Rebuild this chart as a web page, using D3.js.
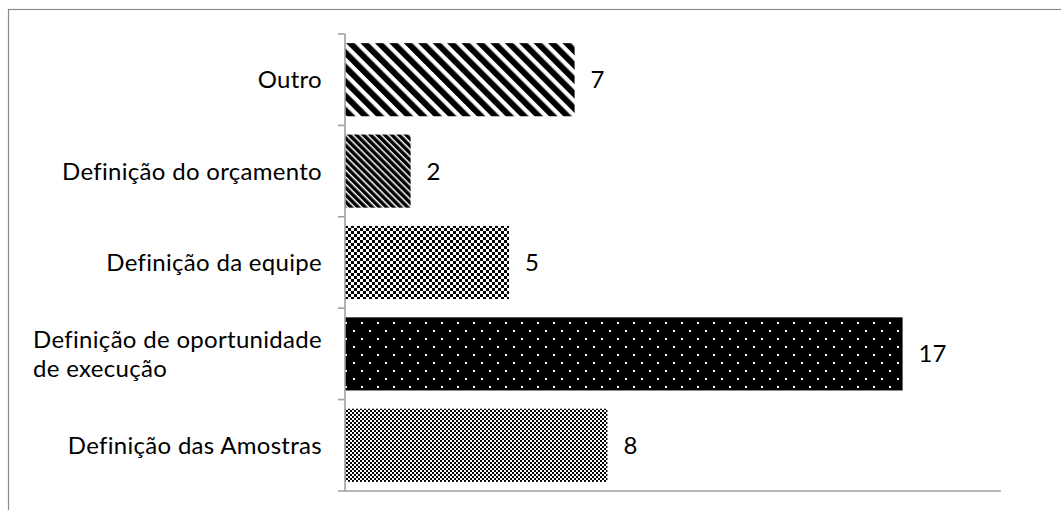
<!DOCTYPE html>
<html>
<head>
<meta charset="utf-8">
<script src="https://cdn.jsdelivr.net/npm/d3@7"></script>
<style>
  html, body { margin: 0; padding: 0; background: #fff; }
  svg { display: block; }
  text { font-family: "Lato", "Open Sans", sans-serif; fill: #000; }
</style>
</head>
<body>
<svg id="chart" width="1061" height="510"></svg>
<script>
// ---- data (top of chart to bottom) ----
const categories = ["Outro", "Definição do orçamento", "Definição da equipe", "Definição de oportunidade de execução", "Definição das Amostras"];
const categoryLines = [["Outro"], ["Definição do orçamento"], ["Definição da equipe"], ["Definição de oportunidade", "de execução"], ["Definição das Amostras"]];
const values = [7, 2, 5, 17, 8];
const patternIds = ["pWide", "pDark", "pCheckBig", "pDots", "pCheckSmall"];
const xDomain = [0, 20];

const W = 1061, H = 510;
const plot = { left: 345, right: 1001, top: 34, bottom: 491 };
const svg = d3.select("#chart");
const defs = svg.append("defs");

// wide downward diagonal
const p1 = defs.append("pattern").attr("id", "pWide").attr("patternUnits", "userSpaceOnUse")
  .attr("width", 10.2).attr("height", 10.2).attr("patternTransform", "rotate(-45)");
p1.append("rect").attr("width", 10.2).attr("height", 10.2).attr("fill", "#fff");
p1.append("rect").attr("width", 6.0).attr("height", 10.2).attr("fill", "#000");

// dark downward diagonal
const p2 = defs.append("pattern").attr("id", "pDark").attr("patternUnits", "userSpaceOnUse")
  .attr("width", 5).attr("height", 5).attr("patternTransform", "rotate(-45)");
p2.append("rect").attr("width", 5).attr("height", 5).attr("fill", "#fff");
p2.append("rect").attr("width", 3.5).attr("height", 5).attr("fill", "#000");

// large checker with crosses
const p3 = defs.append("pattern").attr("id", "pCheckBig").attr("patternUnits", "userSpaceOnUse")
  .attr("width", 12).attr("height", 12);
p3.append("rect").attr("width", 12).attr("height", 12).attr("fill", "#fff");
for (let i = 0; i < 4; i++) for (let j = 0; j < 4; j++) {
  if ((i + j) % 2 === 0) p3.append("rect").attr("x", i * 3).attr("y", j * 3).attr("width", 3).attr("height", 3).attr("fill", "#000");
}
p3.append("rect").attr("x", 3).attr("y", 4).attr("width", 3).attr("height", 1).attr("fill", "#000");
p3.append("rect").attr("x", 4).attr("y", 3).attr("width", 1).attr("height", 3).attr("fill", "#000");

// black with white dots
const p4 = defs.append("pattern").attr("id", "pDots").attr("patternUnits", "userSpaceOnUse")
  .attr("width", 16).attr("height", 16).attr("x", 345).attr("y", 0);
p4.append("rect").attr("width", 16).attr("height", 16).attr("fill", "#000");
p4.append("rect").attr("x", 0).attr("y", 2).attr("width", 2).attr("height", 2).attr("fill", "#fff");
p4.append("rect").attr("x", 8).attr("y", 10).attr("width", 2).attr("height", 2).attr("fill", "#fff");

// small checkerboard
const p5 = defs.append("pattern").attr("id", "pCheckSmall").attr("patternUnits", "userSpaceOnUse")
  .attr("width", 4).attr("height", 4);
p5.append("rect").attr("width", 4).attr("height", 4).attr("fill", "#fff");
p5.append("rect").attr("x", 0).attr("y", 0).attr("width", 2).attr("height", 2).attr("fill", "#000");
p5.append("rect").attr("x", 2).attr("y", 2).attr("width", 2).attr("height", 2).attr("fill", "#000");

// outer frame
svg.append("rect").attr("x", 8.5).attr("y", 9.5).attr("width", W + 10).attr("height", H + 10)
  .attr("fill", "none").attr("stroke", "#8c8c8c").attr("stroke-width", 1.2);

const x = d3.scaleLinear().domain(xDomain).range([plot.left, plot.right]);
const y = d3.scaleBand().domain(categories).range([plot.top, plot.bottom]).paddingInner(0.2).paddingOuter(0.1);

// bars
svg.append("g").selectAll("rect").data(categories).join("rect")
  .attr("x", x(0))
  .attr("y", d => y(d))
  .attr("width", (d, i) => x(values[i]) - x(0))
  .attr("height", y.bandwidth())
  .attr("fill", (d, i) => `url(#${patternIds[i]})`);

// axes
const axisColor = "#a0a0a0";
const bandStep = (plot.bottom - plot.top) / categories.length;
const g = svg.append("g");
g.append("line").attr("x1", plot.left).attr("x2", plot.left).attr("y1", plot.top).attr("y2", plot.bottom)
  .attr("stroke", axisColor).attr("stroke-width", 1.6);
g.append("line").attr("x1", plot.left - 7).attr("x2", plot.right).attr("y1", plot.bottom).attr("y2", plot.bottom)
  .attr("stroke", axisColor).attr("stroke-width", 1.6);
d3.range(categories.length).forEach(i => {
  const yy = plot.top + i * bandStep;
  g.append("line").attr("x1", plot.left - 7).attr("x2", plot.left).attr("y1", yy).attr("y2", yy)
    .attr("stroke", axisColor).attr("stroke-width", 1.6);
});

// category labels
const fontSize = 24;
const letterSp = 0.3;
const lineH = 29;
categories.forEach((c, i) => {
  const lines = categoryLines[i];
  const cy = y(c) + y.bandwidth() / 2;
  const t = svg.append("text").attr("font-size", fontSize).attr("letter-spacing", letterSp);
  lines.forEach((ln, k) => {
    t.append("tspan").attr("x", 0).attr("y", cy + (k - (lines.length - 1) / 2) * lineH).attr("dy", "0.35em").text(ln);
  });
  // right-align block, left-align lines inside block
  const bb = t.node().getBBox();
  t.attr("transform", `translate(${322 - bb.width},0)`);
});

// value labels
svg.append("g").selectAll("text").data(categories).join("text")
  .attr("x", (d, i) => x(values[i]) + 16)
  .attr("y", d => y(d) + y.bandwidth() / 2)
  .attr("dy", "0.35em")
  .attr("font-size", fontSize)
  .text((d, i) => values[i]);
</script>
</body>
</html>
